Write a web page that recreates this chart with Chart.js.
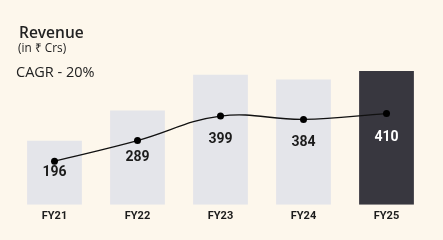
<!DOCTYPE html>
<html>
<head>
<meta charset="utf-8">
<script src="https://cdn.jsdelivr.net/npm/chart.js@4"></script>
<style>
  html, body { margin: 0; padding: 0; background: #fdf7ec; }
  #wrap { position: relative; width: 443px; height: 240px; }
  #c { position: absolute; left: 0; top: 0; }
  .t { position: absolute; color: #222; font-family: "Open Sans", sans-serif; white-space: nowrap; }
</style>
</head>
<body>
<div id="wrap">
  <canvas id="c" width="443" height="240"></canvas>
  <div class="t" style="left:19px; top:21px; font-size:15.5px; font-weight:600;">Revenue</div>
  <div class="t" style="left:18px; top:39px; font-size:11.8px;">(in ₹ Crs)</div>
  <div class="t" style="left:16px; top:62px; font-size:14.5px;">CAGR - 20%</div>
</div>
<script>
const years = ['FY21', 'FY22', 'FY23', 'FY24', 'FY25'];
const revenue = [196, 289, 399, 384, 410];
const barColors = ['#e4e5ea', '#e4e5ea', '#e4e5ea', '#e4e5ea', '#38373f'];
const labelColors = ['#1c1c1c', '#1c1c1c', '#1c1c1c', '#1c1c1c', '#ffffff'];

// value labels in the middle of each bar
const valueLabels = {
  id: 'valueLabels',
  afterDatasetsDraw(chart) {
    const bars = chart.getDatasetMeta(0).data;
    const ctx = chart.ctx;
    ctx.save();
    ctx.font = 'bold 14px Roboto, sans-serif';
    ctx.textAlign = 'center';
    ctx.textBaseline = 'middle';
    bars.forEach((bar, i) => {
      ctx.fillStyle = labelColors[i];
      ctx.fillText(String(revenue[i]), bar.x, (bar.y + bar.base) / 2);
    });
    ctx.restore();
  }
};

new Chart(document.getElementById('c'), {
  data: {
    labels: years,
    datasets: [
      {
        type: 'bar',
        data: revenue,
        backgroundColor: barColors,
        categoryPercentage: 0.66,
        barPercentage: 1,
        yAxisID: 'y',
        order: 2
      },
      {
        type: 'line',
        data: revenue,
        borderColor: '#111',
        borderWidth: 1.3,
        tension: 0.4,
        pointRadius: 3.5,
        pointBackgroundColor: '#000',
        pointBorderWidth: 0,
        yAxisID: 'y1',
        order: 1
      }
    ]
  },
  options: {
    responsive: false,
    animation: false,
    layout: { padding: { left: 13, right: 15, top: 58, bottom: 12 } },
    plugins: { legend: { display: false }, tooltip: { enabled: false } },
    scales: {
      x: {
        grid: { display: false, drawTicks: false },
        border: { display: false },
        ticks: { color: '#1c1c1c', padding: 5, font: { family: 'Roboto', weight: 'bold', size: 11 } }
      },
      y: { display: false, min: 0, max: 450 },
      y1: { display: false, min: 0, max: 660 }
    }
  },
  plugins: [valueLabels]
});
</script>
</body>
</html>
